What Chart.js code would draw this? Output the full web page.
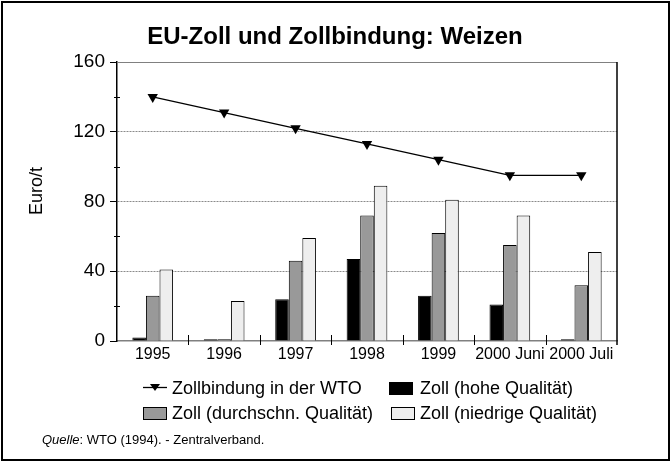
<!DOCTYPE html>
<html><head><meta charset="utf-8">
<script src="https://cdn.jsdelivr.net/npm/chart.js@4/dist/chart.umd.min.js"></script>
<style>
html,body{margin:0;padding:0;background:#fff;}
body{width:670px;height:461px;position:relative;overflow:hidden;font-family:"Liberation Sans",Arial,sans-serif;}
#frame{position:absolute;left:1px;top:1px;width:665px;height:456px;border:2px solid #000;}
#c{position:absolute;left:0;top:0;}
#title{position:absolute;left:0;width:670px;top:22px;text-align:center;font-weight:bold;font-size:24px;line-height:28px;}
#ytitle{position:absolute;left:36px;top:191px;font-size:18px;line-height:20px;transform:translate(-50%,-50%) rotate(-90deg);white-space:nowrap;}
.leg{position:absolute;font-size:18px;line-height:20px;white-space:nowrap;}
.box{position:absolute;width:24px;height:13px;border:1px solid #000;box-sizing:border-box;}
#src{position:absolute;left:42px;top:432px;font-size:13px;}
</style></head>
<body>
<div id="frame"></div>
<canvas id="c" width="670" height="461"></canvas>
<div id="title">EU-Zoll und Zollbindung: Weizen</div>
<div id="ytitle">Euro/t</div>
<div id="legend"></div>
<div id="src"><i>Quelle</i>: WTO (1994). - Zentralverband.</div>
<script>
const categories = ["1995","1996","1997","1998","1999","2000 Juni","2000 Juli"];
const zollbindung = [140,131,122,113,104,95,95];
const zollHoch = [2,1,24,47,26,21,1];
const zollMittel = [26,1,46,72,62,55,32];
const zollNiedrig = [41,23,59,89,81,72,51];
const yTicks = [0,40,80,120,160];
const seriesNames = ["Zollbindung in der WTO","Zoll (hohe Qualität)","Zoll (durchschn. Qualität)","Zoll (niedrige Qualität)"];

const FONT = "'Liberation Sans', Arial, sans-serif";

const framePlugin = {
  id: 'framePlugin',
  afterDraw(chart){
    const ctx = chart.ctx, a = chart.chartArea, x = chart.scales.x, y = chart.scales.y;
    ctx.save();
    ctx.lineWidth = 1;
    ctx.strokeStyle = '#808080';
    ctx.beginPath(); ctx.moveTo(a.left, Math.round(a.top)+0.5); ctx.lineTo(a.right, Math.round(a.top)+0.5); ctx.stroke();
    ctx.strokeStyle = '#000';
    ctx.lineWidth = 1.5;
    ctx.beginPath(); ctx.moveTo(a.right, a.top); ctx.lineTo(a.right, a.bottom+4); ctx.stroke();
    ctx.lineWidth = 1;
    for (let v = 20; v < 160; v += 40){
      const py = Math.round(y.getPixelForValue(v))+0.5;
      ctx.beginPath(); ctx.moveTo(a.left-3, py); ctx.lineTo(a.left+3, py); ctx.stroke();
    }
    const yb = y.getPixelForValue(0);
    for (let i = 1; i < categories.length; i++){
      const px = Math.round((x.getPixelForValue(i-1)+x.getPixelForValue(i))/2)+0.5;
      ctx.beginPath(); ctx.moveTo(px, yb-6); ctx.lineTo(px, yb+4); ctx.stroke();
    }
    ctx.restore();
  }
};

const chart = new Chart(document.getElementById('c'), {
  data: {
    labels: categories,
    datasets: [
      {type:'line', label:seriesNames[0], data:zollbindung, borderColor:'#000', borderWidth:1.3,
       pointStyle:'triangle', rotation:180, pointRadius:6, pointBackgroundColor:'#000', pointBorderColor:'#000', pointBorderWidth:0, order:0},
      {type:'bar', label:seriesNames[1], data:zollHoch, backgroundColor:'#000', borderColor:'#000', borderWidth:1, order:1},
      {type:'bar', label:seriesNames[2], data:zollMittel, backgroundColor:'#999999', borderColor:'#000', borderWidth:1, order:1},
      {type:'bar', label:seriesNames[3], data:zollNiedrig, backgroundColor:'#eeeeee', borderColor:'#000', borderWidth:1, order:1}
    ]
  },
  options: {
    responsive:false, animation:false,
    datasets:{bar:{categoryPercentage:0.57, barPercentage:1.0}},
    layout:{padding:{left:0, top:62, right:53, bottom:95}},
    plugins:{legend:{display:false}, tooltip:{enabled:false}, title:{display:false}},
    scales:{
      x:{
        afterFit(s){ s.height = 25; },
        grid:{display:true, drawOnChartArea:false, drawTicks:false},
        border:{display:true, color:'#808080', width:1.5},
        ticks:{color:'#000', font:{family:FONT, size:16}, padding:4, maxRotation:0, autoSkip:false}
      },
      y:{
        min:0, max:160,
        afterFit(s){ s.width = 117; },
        afterBuildTicks(s){ s.ticks = []; for (let v=0; v<=160; v+=40) s.ticks.push({value:v}); },
        grid:{
          color(ctx){ const v = ctx.tick ? ctx.tick.value : 0; return (v>0 && v<160) ? '#8a8a8a' : 'rgba(0,0,0,0)'; },
          tickColor:'#000', tickLength:7, lineWidth:1
        },
        border:{display:true, color:'#000', width:1.5, dash:[2,1]},
        title:{display:false},
        ticks:{color:'#000', font:{family:FONT, size:19}, padding:5, callback:(v)=> yTicks.includes(v) ? String(v) : ''}
      }
    }
  },
  plugins:[framePlugin]
});

const legendPos = [
  {left:143, top:378, kind:'line', textLeft:172},
  {left:389, top:378, kind:'box', textLeft:420},
  {left:143, top:403, kind:'box', textLeft:172},
  {left:391, top:403, kind:'box', textLeft:420}
];
const legend = document.getElementById('legend');
chart.data.datasets.forEach((ds, i) => {
  const p = legendPos[i];
  if (p.kind === 'line'){
    const cv = document.createElement('canvas');
    cv.width = 24; cv.height = 14;
    cv.style.position = 'absolute'; cv.style.left = p.left+'px'; cv.style.top = (p.top+3)+'px';
    const g = cv.getContext('2d');
    g.strokeStyle = '#000'; g.lineWidth = 1.3;
    g.beginPath(); g.moveTo(0,6.5); g.lineTo(24,6.5); g.stroke();
    g.fillStyle = '#000'; g.beginPath(); g.moveTo(7,3); g.lineTo(17,3); g.lineTo(12,10); g.closePath(); g.fill();
    legend.appendChild(cv);
  } else {
    const b = document.createElement('div');
    b.className = 'box'; b.style.left = p.left+'px'; b.style.top = (p.top+4)+'px';
    b.style.background = ds.backgroundColor;
    legend.appendChild(b);
  }
  const t = document.createElement('div');
  t.className = 'leg'; t.style.left = p.textLeft+'px';
  t.style.top = p.top+'px';
  t.textContent = ds.label;
  legend.appendChild(t);
});
</script>
</body></html>
